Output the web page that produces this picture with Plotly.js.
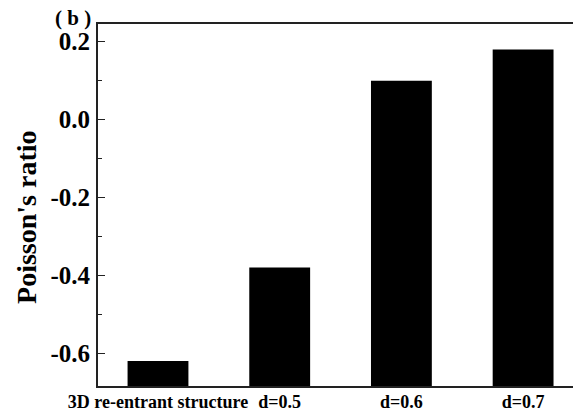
<!DOCTYPE html>
<html>
<head>
<meta charset="utf-8">
<script src="https://cdn.plot.ly/plotly-3.0.1.min.js"></script>
<style>html,body{margin:0;padding:0;background:#fff;}#chart{width:573px;height:412px;}</style>
</head>
<body>
<div id="chart"></div>
<script>
const categories = ["3D re-entrant structure", "d=0.5", "d=0.6", "d=0.7"];
const poissonRatio = [-0.62, -0.38, 0.10, 0.18];
const yTickVals = [-0.6, -0.4, -0.2, 0.0, 0.2];
const yTickText = ["-0.6", "-0.4", "-0.2", "0.0", "0.2"];
const panelLabel = "( b )";
const yTitle = "Poisson's ratio";

const yMin = -0.684, yMax = 0.2455;
const serif = "'Liberation Serif', 'Times New Roman', serif";

const trace = {
  type: "bar",
  x: [0, 1, 2, 3],
  base: poissonRatio.map(() => yMin),
  y: poissonRatio.map(v => v - yMin),
  width: 0.5,
  marker: {color: "#000", line: {width: 0}},
  hoverinfo: "skip"
};

const layout = {
  width: 573, height: 412,
  margin: {l: 98, r: 0, t: 24, b: 26, pad: 0},
  paper_bgcolor: "#fff", plot_bgcolor: "#fff",
  showlegend: false,
  xaxis: {
    range: [-0.493, 3.41],
    tickmode: "array", tickvals: [0, 1, 2, 3], ticktext: categories,
    ticks: "", showgrid: false, zeroline: false,
    showline: true, linecolor: "#222", linewidth: 2, mirror: true,
    tickfont: {family: serif, size: 18, color: "#000", weight: "bold"},
    ticklabelstandoff: -2
  },
  yaxis: {
    range: [yMin, yMax],
    tickmode: "array", tickvals: yTickVals, ticktext: yTickText,
    ticks: "inside", ticklen: 7, tickwidth: 1.5, tickcolor: "#222",
    minor: {ticks: "inside", ticklen: 4, tickwidth: 1.5, tickcolor: "#222", dtick: 0.1, tick0: 0, showgrid: false},
    showgrid: false, zeroline: false,
    showline: true, linecolor: "#222", linewidth: 2, mirror: false,
    tickfont: {family: serif, size: 25, color: "#000", weight: "bold"},
    ticklabelstandoff: 1
  },
  annotations: [{
    text: panelLabel, xref: "paper", yref: "paper",
    x: -0.095, y: 1.016, xanchor: "left", yanchor: "middle",
    showarrow: false,
    font: {family: serif, size: 21, color: "#000", weight: "bold"}
  }, {
    text: yTitle, xref: "paper", yref: "paper",
    x: -0.1495, y: 0.467, xanchor: "center", yanchor: "middle",
    textangle: -90, showarrow: false,
    font: {family: serif, size: 28, color: "#000", weight: "bold"}
  }]
};

Plotly.newPlot("chart", [trace], layout, {displayModeBar: false, staticPlot: true});
</script>
</body>
</html>
